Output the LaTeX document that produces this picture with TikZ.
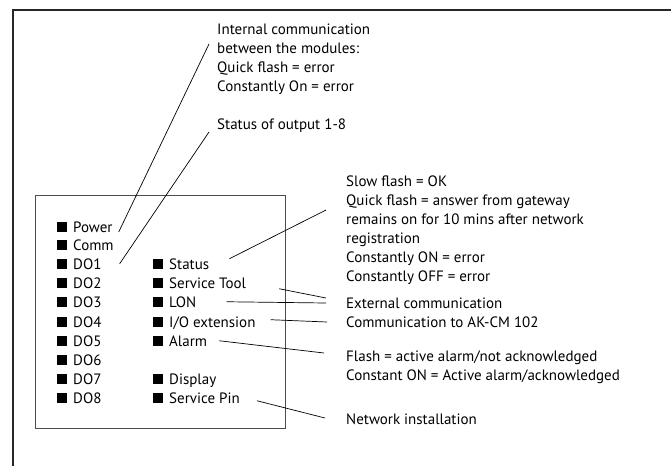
\documentclass[tikz,border=0pt]{standalone}
\usepackage{fontspec}
\setmainfont{PT Sans}

\newcommand\ledsq{\rule{10pt}{10pt}\hspace{6pt}}

\begin{document}
\begin{tikzpicture}[x=1pt, y=-1pt,
    txt/.style={anchor=north west, align=left, inner sep=0pt, font=\fontsize{15}{19}\selectfont},
    led/.style={anchor=base west, inner sep=0pt, font=\fontsize{15}{19}\selectfont},
    leader/.style={line width=0.7pt}]
    \useasboundingbox (0,0) rectangle (671,466);

    % frame and module
    \draw[line width=1.4pt, black!85] (671,10) -- (13,10) -- (13,466);
    \draw[line width=1pt, black!70] (35,195) rectangle (285,428);

    % LEDs
    \foreach \name/\txt/\y in {power/Power/227, comm/Comm/245, do1/DO1/264, do2/DO2/283,
        do3/DO3/302, do4/DO4/322, do5/DO5/341, do6/DO6/360, do7/DO7/379, do8/DO8/398}
        \node[led] (\name) at (57,\y+5) {\ledsq\txt};
    \foreach \name/\txt/\y in {status/Status/264, servtool/Service Tool/283, lon/LON/302,
        ioext/{I/O extension}/322, alarm/Alarm/341, display/Display/379, servpin/Service Pin/398}
        \node[led] (\name) at (153,\y+5) {\ledsq\txt};

    % explanations
    \node[txt] (internal) at (217,24) {Internal communication\\between the modules:\\Quick flash = error\\Constantly On = error};
    \node[txt] (outputs) at (217,119) {Status of output 1-8};
    \node[txt] (statusinfo) at (346,176) {Slow flash = OK\\Quick flash = answer from gateway\\remains on for 10 mins after network\\registration\\Constantly ON = error\\Constantly OFF = error};
    \node[txt] (extcom) at (346,298) {External communication\\Communication to AK-CM 102};
    \node[txt] (alarminfo) at (346,351) {Flash = active alarm/not acknowledged\\Constant ON = Active alarm/acknowledged};
    \node[txt] (netinst) at (346,414) {Network installation};

    % leader ends
    \coordinate (internalend) at (209,44);
    \coordinate (outputsend) at (209,132);
    \coordinate (statusend) at (326,210);
    \coordinate (extend1) at (326,298);
    \coordinate (extend2) at (326,303);
    \coordinate (ioend) at (327,322);
    \coordinate (alarmend) at (324,353);
    \coordinate (netend) at (325,418);

    \draw[leader] ([xshift=6pt,yshift=0pt]power.base east) -- (internalend);
    \draw[leader] ([xshift=18pt]do1.east) -- (outputsend);
    \draw[leader] ([xshift=20pt,yshift=5pt]status.east) -- (statusend);
    \draw[leader] ([xshift=33pt,yshift=-6pt]servtool.east) -- (extend1);
    \draw[leader] ([xshift=30pt]lon.east) -- (extend2);
    \draw[leader] ([xshift=15pt,yshift=3pt]ioext.east) -- (ioend);
    \draw[leader] ([xshift=12pt]alarm.east) -- (alarmend);
    \draw[leader] ([xshift=17pt,yshift=-3pt]servpin.east) -- (netend);
\end{tikzpicture}
\end{document}
